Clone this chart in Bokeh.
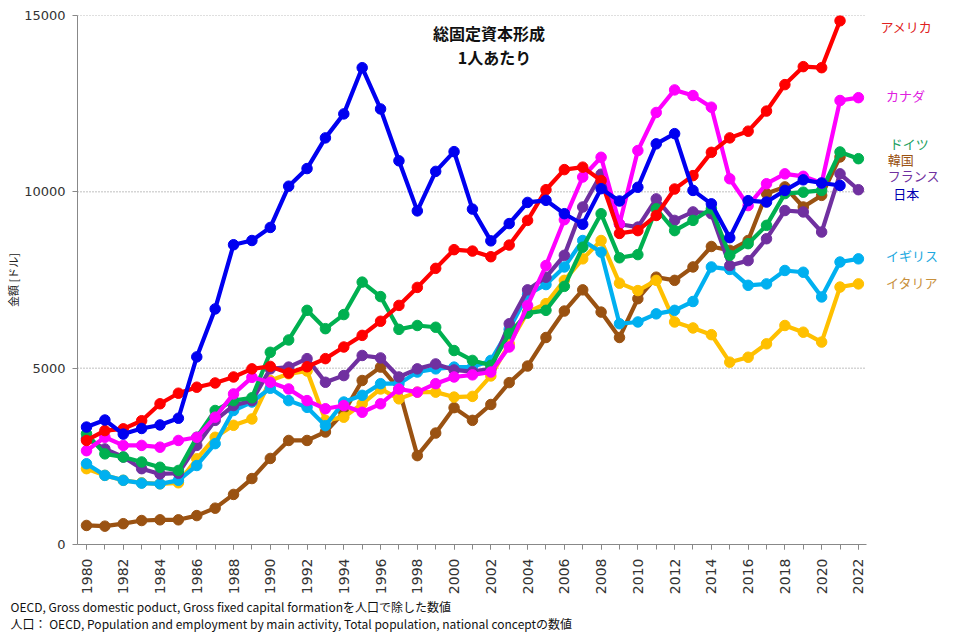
import math
from bokeh.plotting import figure
from bokeh.models import Range1d, FixedTicker, Label, BasicTickFormatter, Title
from bokeh.embed import file_html
from bokeh.resources import INLINE

years = list(range(1980, 2023))

usa = [2950, 3230, 3280, 3510, 3990, 4290, 4460, 4580, 4750, 4980,
       5050, 4860, 5040, 5270, 5600, 5930, 6330, 6780, 7290, 7830,
       8360, 8320, 8160, 8490, 9190, 10060, 10630, 10700, 10320, 8820,
       8900, 9330, 10080, 10460, 11120, 11530, 11720, 12290, 13040, 13550,
       13520, 14850]
canada = [2660, 3040, 2810, 2810, 2760, 2950, 3040, 3610, 4270, 4740,
          4600, 4410, 4080, 3850, 3940, 3750, 3990, 4410, 4320, 4560,
          4750, 4810, 4890, 5600, 6780, 7910, 9210, 10420, 10980, 9090,
          11170, 12250, 12890, 12730, 12400, 10370, 9610, 10230, 10510, 10440,
          10250, 12590, 12670]
germany = [3140, 2570, 2480, 2340, 2190, 2100, 3040, 3800, 4080, 4160,
           5450, 5800, 6640, 6120, 6520, 7440, 7030, 6100, 6210, 6160,
           5500, 5220, 5080, 5980, 6560, 6640, 7320, 8430, 9380, 8130,
           8220, 9520, 8900, 9190, 9520, 8200, 8530, 9050, 9950, 9990,
           10040, 11130, 10940]
korea = [540, 520, 590, 680, 700, 700, 820, 1030, 1420, 1870,
         2440, 2950, 2950, 3190, 3750, 4650, 5030, 4410, 2520, 3160,
         3880, 3520, 3970, 4590, 5060, 5870, 6620, 7220, 6590, 5870,
         6970, 7580, 7490, 7870, 8450, 8340, 8620, 9950, 10140, 9570,
         9900, 10990]
france = [3000, 2710, 2480, 2150, 2000, 2020, 2810, 3520, 3940, 4080,
          4980, 5030, 5270, 4600, 4790, 5360, 5290, 4750, 4980, 5120,
          4950, 4900, 4980, 6260, 7220, 7580, 8200, 9570, 10500, 9080,
          9000, 9800, 9190, 9430, 9380, 7910, 8050, 8670, 9470, 9430,
          8860, 10510, 10060]
japan = [3330, 3530, 3130, 3290, 3390, 3580, 5320, 6680, 8500, 8620,
         8990, 10160, 10660, 11530, 12210, 13520, 12350, 10880, 9460, 10580,
         11140, 9510, 8610, 9100, 9700, 9760, 9380, 9080, 10090, 9740,
         10130, 11360, 11650, 10040, 9660, 8700, 9750, 9710, 10040, 10340,
         10250, 10180]
uk = [2290, 1960, 1820, 1740, 1720, 1820, 2240, 2860, 3800, 4040,
      4430, 4080, 3890, 3370, 4040, 4230, 4560, 4560, 4890, 4980,
      5030, 5030, 5220, 6100, 7090, 7370, 7870, 8620, 8290, 6260,
      6310, 6540, 6640, 6890, 7870, 7800, 7350, 7390, 7770, 7720,
      7020, 8010, 8100]
italy = [2150, 1960, 1820, 1750, 1720, 1750, 2430, 3040, 3380, 3560,
         4650, 4840, 4920, 3520, 3610, 3990, 4410, 4130, 4320, 4320,
         4180, 4200, 4780, 5690, 6590, 6830, 7490, 8100, 8620, 7410,
         7200, 7490, 6310, 6140, 5950, 5170, 5310, 5690, 6210, 6020,
         5740, 7300, 7390]

names = ["韓国", "イタリア", "イギリス", "フランス", "ドイツ", "カナダ", "アメリカ", "日本"]
series = [korea, italy, uk, france, germany, canada, usa, japan]
colors = ["#9A5212", "#FFC000", "#00B0F0", "#7030A0", "#00B050", "#FF00FF", "#FF0000", "#0000F0"]
label_colors = ["#9A5212", "#C8903C", "#20A8E0", "#7030A0", "#20A060", "#E020E0", "#E02020", "#0000B0"]

y_ticks = [0, 5000, 10000, 15000]
title_lines = ["総固定資本形成", "1人あたり"]
footer_lines = ["OECD, Gross domestic poduct, Gross fixed capital formationを人口で除した数値",
                "人口： OECD, Population and employment by main activity, Total population, national conceptの数値"]

FONT = "Noto Sans CJK JP"
NUMFONT = "DejaVu Sans"

X0, X1 = 1979.51, 2022.44      # visible axis extent
XR = 2028.48                    # frame extends right to hold the end labels

p = figure(width=977, height=639, output_backend="svg", toolbar_location=None,
           x_range=Range1d(X0, XR), y_range=Range1d(0, 15000),
           min_border_left=77, min_border_right=0, min_border_top=15, min_border_bottom=95)
p.outline_line_color = None
p.background_fill_color = "white"
p.border_fill_color = "white"
p.xgrid.visible = False
p.ygrid.visible = False

# dotted horizontal grid lines, limited to the axis extent
for t in y_ticks[1:]:
    p.segment(x0=X0, y0=t, x1=X1, y1=t, line_color="#808080", line_dash="1 2", line_width=1)

p.yaxis.ticker = FixedTicker(ticks=y_ticks)
p.yaxis.formatter = BasicTickFormatter(use_scientific=False)
p.yaxis.axis_label = "金額 [ドル]"
p.yaxis.axis_label_text_font = FONT
p.yaxis.axis_label_text_font_style = "normal"
p.yaxis.axis_label_text_font_size = "11px"
p.yaxis.axis_label_text_color = "#222222"
p.yaxis.axis_label_standoff = 0

p.xaxis.ticker = FixedTicker(ticks=list(range(1980, 2023, 2)), minor_ticks=years)
p.xaxis.formatter = BasicTickFormatter(use_scientific=False)
p.xaxis.major_label_orientation = math.pi / 2
p.xaxis.bounds = (X0, X1)

for ax in (p.xaxis, p.yaxis):
    ax.axis_line_color = "#888888"
    ax.major_tick_line_color = "#888888"
    ax.minor_tick_line_color = "#888888"
    ax.major_tick_in = 0
    ax.major_tick_out = 5
    ax.minor_tick_in = 0
    ax.minor_tick_out = 5
    ax.major_label_text_font = NUMFONT
    ax.major_label_text_color = "#333333"
    ax.major_label_standoff = 8
    ax.major_label_text_font_size = "14px"
p.yaxis.minor_tick_line_color = None
p.yaxis.major_label_text_font_size = "13px"
p.yaxis.major_label_standoff = 7
p.xaxis.major_label_standoff = 9

for vals, c in zip(series, colors):
    xs = years[:len(vals)]
    p.line(xs, vals, line_width=4.2, color=c)
    p.scatter(xs, vals, size=10.5, color=c)

# end-of-line labels (positions in data units, tuned to avoid overlap)
label_pos = {"アメリカ": (2023.2, 14700), "カナダ": (2023.5, 12730), "ドイツ": (2023.7, 11370),
             "韓国": (2023.6, 10920), "フランス": (2023.6, 10460), "日本": (2023.9, 9950),
             "イギリス": (2023.5, 8200), "イタリア": (2023.5, 7430)}
for name, lc in zip(names, label_colors):
    lx, ly = label_pos[name]
    p.add_layout(Label(x=lx, y=ly, text=name, text_color=lc, text_font=FONT,
                       text_font_size="13px", text_baseline="middle", text_align="left"))

p.add_layout(Label(x=2001.9, y=14490, text=title_lines[0], text_font=FONT, text_font_size="16px",
                   text_font_style="bold", text_align="center", text_baseline="middle", text_color="#111111"))
p.add_layout(Label(x=2002.2, y=13810, text=title_lines[1], text_font=FONT, text_font_size="16px",
                   text_font_style="bold", text_align="center", text_baseline="middle", text_color="#111111"))

for line, so in zip(footer_lines, (-3, -2)):
    p.add_layout(Title(text=line, align="left", offset=-67, standoff=so, text_font=FONT,
                       text_font_size="12px", text_font_style="normal", text_color="#111111"), "below")

open("out.html", "w").write(file_html(p, INLINE))
